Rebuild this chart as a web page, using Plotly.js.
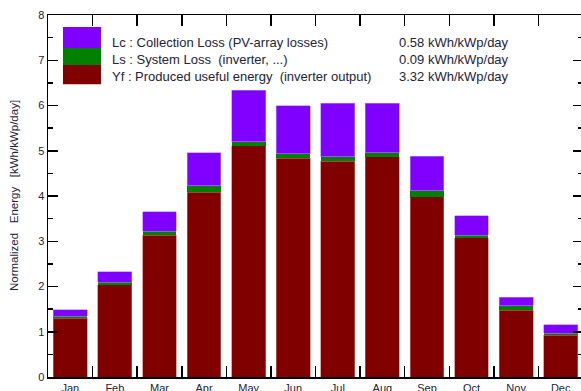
<!DOCTYPE html>
<html>
<head>
<meta charset="utf-8">
<script src="https://cdn.plot.ly/plotly-3.0.1.min.js"></script>
<style>
html, body { margin: 0; padding: 0; overflow: hidden; background: #fff; }
#chart { width: 584px; height: 400px; }
</style>
</head>
<body>
<div id="chart"></div>
<script>
// Data (kWh/kWp/day)
const months = ["Jan","Feb","Mar","Apr","May","Jun","Jul","Aug","Sep","Oct","Nov","Dec"];
const yfValues = [1.30, 2.04, 3.13, 4.08, 5.11, 4.83, 4.77, 4.87, 3.98, 3.08, 1.48, 0.92];
const lsValues = [0.04, 0.05, 0.09, 0.15, 0.09, 0.10, 0.10, 0.09, 0.14, 0.05, 0.09, 0.05];
const lcValues = [0.15, 0.24, 0.43, 0.73, 1.14, 1.07, 1.18, 1.09, 0.76, 0.43, 0.19, 0.18];
const legendLabels = [
  "Lc : Collection Loss (PV-array losses)",
  "Ls : System Loss  (inverter, ...)",
  "Yf : Produced useful energy  (inverter output)"
];
const legendValues = ["0.58 kWh/kWp/day", "0.09 kWh/kWp/day", "3.32 kWh/kWp/day"];
const yTitle = "Normalized   Energy   [kWh/kWp/day]";

const colLc = "#8000ff", colLs = "#008000", colYf = "#800000";
const fontFam = "Liberation Sans, Arial, sans-serif";
const textCol = "#23233a";

const traces = [
  { type: "bar", x: months, y: yfValues, marker: { color: colYf, line: { color: "#c07070", width: 0.6 } }, name: "Yf" },
  { type: "bar", x: months, y: lsValues, marker: { color: colLs, line: { width: 0 } }, name: "Ls" },
  { type: "bar", x: months, y: lcValues, marker: { color: colLc, line: { color: "#b080ff", width: 0.6 } }, name: "Lc" }
];

const legendColors = [colLc, colLs, colYf];
const boxEdges = [0.967, 0.909, 0.862, 0.809];
const textY = [0.925, 0.878, 0.829];

const shapes = legendColors.map((c, i) => ({
  type: "rect", xref: "paper", yref: "paper",
  x0: 0.028, x1: 0.099, y0: boxEdges[i + 1], y1: boxEdges[i],
  fillcolor: c, line: { width: 0 }, layer: "above"
}));

const annotations = [];
legendLabels.forEach((t, i) => {
  annotations.push({ text: t, xref: "paper", yref: "paper", x: 0.116, y: textY[i],
    xanchor: "left", yanchor: "middle", showarrow: false,
    font: { family: fontFam, size: 13, color: textCol } });
});
legendValues.forEach((t, i) => {
  annotations.push({ text: t, xref: "paper", yref: "paper", x: 0.652, y: textY[i],
    xanchor: "left", yanchor: "middle", showarrow: false,
    font: { family: fontFam, size: 13, color: textCol } });
});
annotations.push({ text: yTitle, xref: "paper", yref: "paper", x: 0, y: 0.5,
  xshift: -34, xanchor: "center", yanchor: "middle", textangle: -90, showarrow: false,
  font: { family: fontFam, size: 11.5, color: textCol } });

const layout = {
  width: 584, height: 400,
  margin: { l: 48, r: 1, t: 15, b: 23 },
  paper_bgcolor: "#fff", plot_bgcolor: "#fff",
  barmode: "stack", bargap: 0.24,
  showlegend: false,
  font: { family: fontFam, color: textCol },
  xaxis: {
    type: "category", tickson: "boundaries", ticks: "inside", ticklen: 11, tickwidth: 1.5,
    tickcolor: "#000", showline: true, linecolor: "#000", linewidth: 1.5, mirror: "ticks",
    showgrid: false, zeroline: false, fixedrange: true,
    tickfont: { family: fontFam, size: 11, color: textCol }
  },
  yaxis: {
    range: [0, 8], dtick: 1, ticks: "inside", ticklen: 10, tickwidth: 1.5, tickcolor: "#000",
    showline: true, linecolor: "#000", linewidth: 1.5, mirror: "ticks",
    showgrid: false, zeroline: false, fixedrange: true,
    minor: { dtick: 0.5, ticks: "inside", ticklen: 5, tickwidth: 1.5, tickcolor: "#000", showgrid: false },
    tickfont: { family: fontFam, size: 11, color: textCol }
  },
  shapes: shapes,
  annotations: annotations
};

Plotly.newPlot("chart", traces, layout, { displayModeBar: false, staticPlot: true });
</script>
</body>
</html>
